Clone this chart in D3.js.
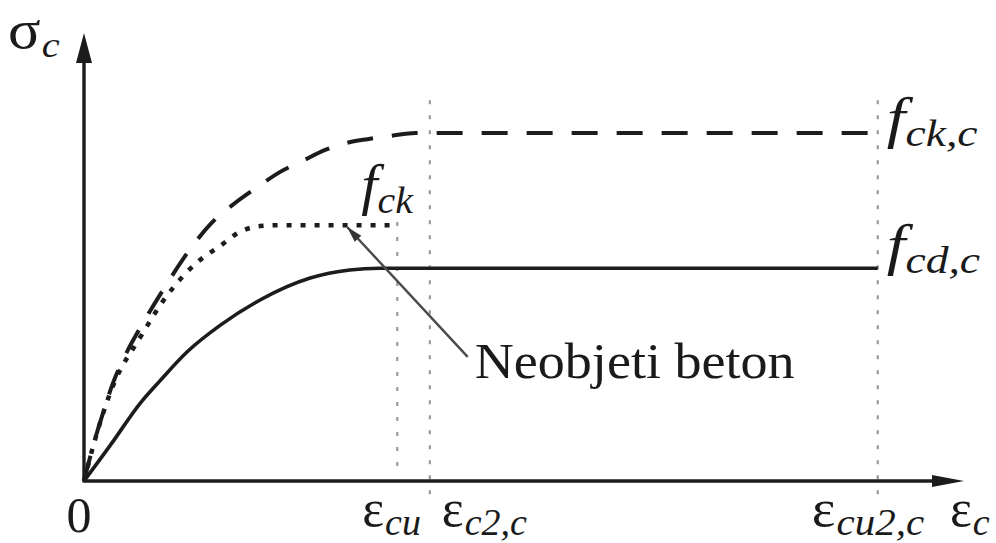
<!DOCTYPE html>
<html>
<head>
<meta charset="utf-8">
<script src="https://cdn.jsdelivr.net/npm/d3@7"></script>
<style>
  html, body { margin: 0; padding: 0; background: #fff; }
  svg { display: block; }
  text { font-family: "Liberation Serif", "Times New Roman", serif; fill: #1a1a1a; }
</style>
</head>
<body>
<svg id="chart" width="996" height="543"></svg>
<script>
// Stress–strain diagram for confined concrete (strain in relative units, stress in % of axis).

// fck,c — confined characteristic curve (dashed)
const confinedStrain = [0, 1.0, 2.2, 3.3, 4.7, 6.9, 9.2, 12.0, 14.5, 17.2, 19.7, 22.3, 24.8, 27.4, 29.7, 32.2, 34.8, 37.7, 90.2];
const confinedStress = [0, 7.6, 15.4, 21.9, 28.1, 35.9, 43.3, 51.6, 57.6, 62.1, 65.6, 69.0, 71.4, 73.9, 75.4, 76.3, 77.0, 77.7, 77.7];

// fck — unconfined concrete (dotted)
const unconfinedStrain = [0, 1.25, 3.2, 6.4, 9.4, 12.8, 15.5, 17.7, 20.0, 22.3, 34.8];
const unconfinedStress = [0, 9.2, 20.8, 32.1, 41.3, 48.7, 52.5, 55.6, 56.9, 57.1, 57.1];

// fcd,c — confined design curve (solid)
const designStrain = [0, 3.0, 6.4, 8.6, 11.7, 15.5, 20.0, 25.7, 30.2, 33.6, 90.2];
const designStress = [0, 8.0, 17.4, 22.3, 28.8, 34.8, 40.4, 45.3, 47.1, 47.5, 47.5];

// Characteristic strains on the horizontal axis
const strainNames  = ["cu", "c2,c", "cu2,c"];
const strainValues = [35.6, 39.3, 90.2];
const guideTops    = [57.8, 85.0, 85.0];
const guideBottoms = [2.5, -3.1, -3.1];

// Curve end labels
const curveLabels  = ["ck,c", "ck", "cd,c"];

// Annotation
const noteText = "Neobjeti beton";
const noteFrom = [29.9, 56.7];
const noteTo   = [43.6, 27.7];

const svg = d3.select("#chart");
const x = d3.scaleLinear().domain([0, 100]).range([84, 964]);
const y = d3.scaleLinear().domain([0, 100]).range([481, 33]);

const ink = "#1c1c1c";
const line = d3.line().x(d => x(d[0])).y(d => y(d[1])).curve(d3.curveMonotoneX);
const zip = (a, b) => a.map((v, i) => [v, b[i]]);

// Dotted guide lines at characteristic strains
svg.append("g").selectAll("line")
  .data(strainValues)
  .join("line")
  .attr("x1", d => x(d)).attr("x2", d => x(d))
  .attr("y1", (d, i) => y(guideTops[i]))
  .attr("y2", (d, i) => y(guideBottoms[i]))
  .attr("stroke", "#9a9a9a")
  .attr("stroke-width", 2.2)
  .attr("stroke-dasharray", "4,11");

// Curves
svg.append("path")
  .attr("d", line(zip(designStrain, designStress)))
  .attr("fill", "none").attr("stroke", ink).attr("stroke-width", 3.6);

svg.append("path")
  .attr("d", line(zip(unconfinedStrain, unconfinedStress)))
  .attr("fill", "none").attr("stroke", ink).attr("stroke-width", 4.5)
  .attr("stroke-dasharray", "5,9");

svg.append("path")
  .attr("d", line(zip(confinedStrain, confinedStress)))
  .attr("fill", "none").attr("stroke", ink).attr("stroke-width", 4)
  .attr("stroke-dasharray", "26,19");

// Axes with arrowheads
const x0 = x(0), y0 = y(0);
const axisX = x(100), axisY = y(100);
svg.append("line").attr("x1", x0).attr("y1", y0).attr("x2", axisX - 28).attr("y2", y0)
  .attr("stroke", ink).attr("stroke-width", 3.4);
svg.append("line").attr("x1", x0).attr("y1", y0 + 1.5).attr("x2", x0).attr("y2", axisY + 26)
  .attr("stroke", ink).attr("stroke-width", 3.4);
svg.append("path")
  .attr("d", `M${axisX},${y0} L${axisX - 32},${y0 - 6} L${axisX - 32},${y0 + 6} Z`)
  .attr("fill", ink);
svg.append("path")
  .attr("d", `M${x0},${axisY} L${x0 - 8},${axisY + 30} L${x0 + 8},${axisY + 30} Z`)
  .attr("fill", ink);

// Annotation leader with arrowhead at the unconfined curve
const ax1 = x(noteFrom[0]), ay1 = y(noteFrom[1]);
const ax2 = x(noteTo[0]), ay2 = y(noteTo[1]);
svg.append("line")
  .attr("x1", ax1).attr("y1", ay1).attr("x2", ax2).attr("y2", ay2)
  .attr("stroke", "#4a4a4a").attr("stroke-width", 2.4);
const ang = Math.atan2(ay1 - ay2, ax1 - ax2);
const hl = 16, hw = 4.5;
const bx = ax1 - hl * Math.cos(ang), by = ay1 - hl * Math.sin(ang);
svg.append("path")
  .attr("d", `M${ax1},${ay1} L${bx + hw * Math.sin(ang)},${by - hw * Math.cos(ang)} L${bx - hw * Math.sin(ang)},${by + hw * Math.cos(ang)} Z`)
  .attr("fill", "#333");
svg.append("text")
  .attr("x", x(noteTo[0]) + 7).attr("y", y(noteTo[1]) + 21)
  .attr("font-size", 50)
  .attr("textLength", 320).attr("lengthAdjust", "spacingAndGlyphs")
  .text(noteText);

// Helper: main symbol with an italic subscript, optionally stretched horizontally
function symbol(px, py, main, sub, opts) {
  const g = svg.append("g")
    .attr("transform", `translate(${px},${py}) scale(${opts.stretch || 1},1)`);
  const t = g.append("text").attr("x", 0).attr("y", 0)
    .attr("font-size", opts.size);
  t.append("tspan").attr("font-style", opts.italicMain ? "italic" : "normal").text(main);
  t.append("tspan").attr("font-style", "italic").attr("font-size", opts.subSize)
    .attr("dy", opts.subDy).attr("dx", opts.subDx || 0).text(sub);
  return g;
}

// Axis titles
symbol(8, 48, "σ", "c", { size: 54, subSize: 36, subDy: 9, subDx: 1, stretch: 1.12 });
symbol(950, 526, "ε", "c", { size: 52, subSize: 38, subDy: 9, subDx: 1 });

// Strain labels
svg.append("text").attr("x", x(0) - 5).attr("y", 532)
  .attr("font-size", 50).attr("text-anchor", "middle").text("0");
const strainOffsets = [-35, 12, -66];
const strainStretch = [1, 1, 1.08];
strainNames.forEach((s, i) => {
  symbol(x(strainValues[i]) + strainOffsets[i], 526, "ε", s,
    { size: 52, subSize: 38, subDy: 9, subDx: 1, stretch: strainStretch[i] });
});

// Curve labels
const labelAnchors = [
  [x(confinedStrain[confinedStrain.length - 1]) + 9, y(confinedStress[confinedStress.length - 1]) + 4],
  [x(unconfinedStrain[unconfinedStrain.length - 1]) - 29, y(unconfinedStress[unconfinedStress.length - 1]) - 21],
  [x(designStrain[designStrain.length - 1]) + 9, y(designStress[designStress.length - 1]) - 4]
];
const labelStretch = [1.2, 1.05, 1.2];
curveLabels.forEach((s, i) => {
  symbol(labelAnchors[i][0], labelAnchors[i][1], "f", s,
    { size: 56, subSize: 38, subDy: 9, subDx: 0, italicMain: true, stretch: labelStretch[i] });
});
</script>
</body>
</html>
